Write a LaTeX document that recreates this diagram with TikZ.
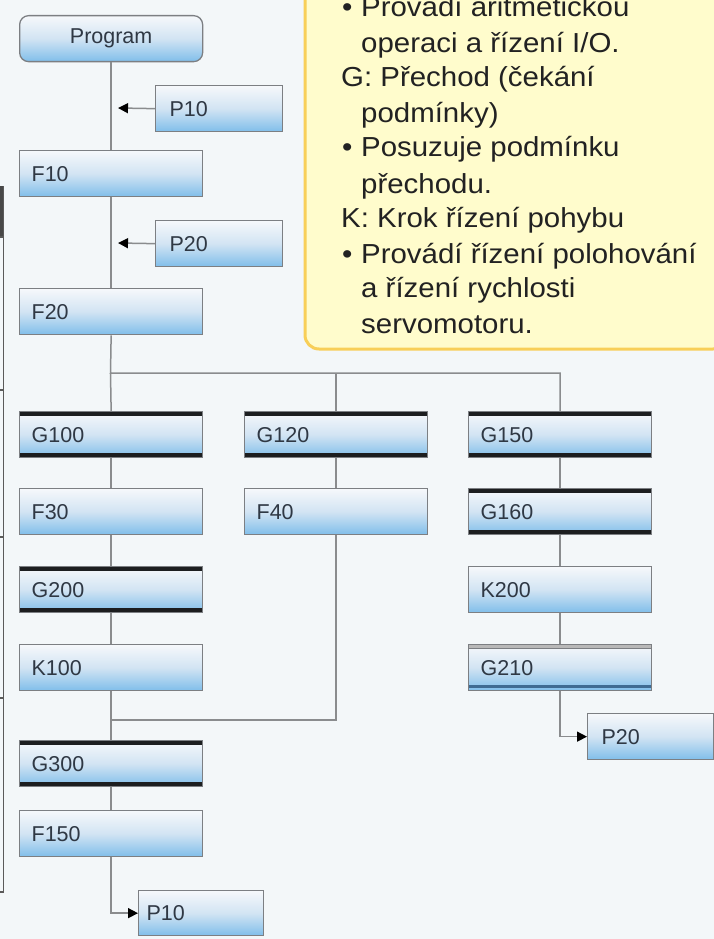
\documentclass[tikz,border=0pt]{standalone}
\usepackage{fontspec}
\setmainfont{Liberation Sans}
\newfontfamily\yfont[FakeStretch=1.07]{Liberation Sans}
\usetikzlibrary{arrows.meta}
\definecolor{bgc}{HTML}{F3F7F9}
\definecolor{boxtop}{HTML}{F6F8FB}
\definecolor{boxmid}{HTML}{D2E4F3}
\definecolor{boxbot}{HTML}{80BEEA}
\definecolor{boxborder}{HTML}{7C7F83}
\definecolor{boxtext}{HTML}{2F3844}
\definecolor{connc}{HTML}{8A8C8E}
\definecolor{gbarc}{HTML}{1C1E20}
\definecolor{yfill}{HTML}{FFFCCC}
\definecolor{yborder}{HTML}{F8CF58}
\definecolor{ytextc}{HTML}{222222}
\definecolor{edgec}{HTML}{5A5A5A}
\definecolor{gblue}{HTML}{3F6B92}
\tikzset{
  box/.style={draw=boxborder, line width=1.3pt, top color=boxtop, bottom color=boxbot, middle color=boxmid,
    minimum height=46pt, inner xsep=12pt, inner ysep=0pt, anchor=north west, align=left,
    text width=159pt, font=\fontsize{21.5}{25}\selectfont, text=boxtext},
  pbox/.style={box, inner xsep=14pt, text width=99pt},
  gbars/.style={path picture={
      \fill[gbarc] (path picture bounding box.north west) rectangle ([yshift=-4.5pt]path picture bounding box.north east);
      \fill[gbarc] (path picture bounding box.south west) rectangle ([yshift=4.5pt]path picture bounding box.south east);}},
  gsoft/.style={path picture={
      \fill[gray!55] (path picture bounding box.north west) rectangle ([yshift=-4pt]path picture bounding box.north east);
      \draw[boxborder, line width=0.8pt] ([yshift=-4pt]path picture bounding box.north west) -- ([yshift=-4pt]path picture bounding box.north east);
      \fill[gblue] ([yshift=3pt]path picture bounding box.south west) rectangle ([yshift=5.5pt]path picture bounding box.south east);}},
  conn/.style={draw=connc, line width=1.5pt},
  arr/.style={conn, -{Triangle[length=10pt,width=10pt,color=black]}},
  ytext/.style={font=\yfont\fontsize{27.5}{33}\selectfont, text=ytextc, inner sep=0pt, anchor=base west},
}
\begin{document}
\begin{tikzpicture}[x=1pt,y=-1pt]
\useasboundingbox (0,0) rectangle (714,939);
\fill[bgc] (0,0) rectangle (714,939);

% left edge (cut-off table)
\fill[edgec!80!black] (0,186) rectangle (3.5,237);
\draw[edgec, line width=1.3pt] (3.5,186) -- (3.5,892) -- (0,892);
\foreach \yy in {237,390,537,698} \draw[edgec, line width=1.3pt] (0,\yy) -- (3.5,\yy);

% yellow note
\draw[yborder, fill=yfill, line width=3pt, rounded corners=14pt] (305,-30) rectangle (727,349);
\node[ytext] (t1) at (342,17) {\makebox[19pt][l]{•}Provádí aritmetickou};
\node[ytext] (t2) at (361,53) {operaci a řízení I/O.};
\node[ytext] (t3) at (341,87) {G: Přechod (čekání};
\node[ytext] (t4) at (361,122) {podmínky)};
\node[ytext] (t5) at (342,157) {\makebox[19pt][l]{•}Posuzuje podmínku};
\node[ytext] (t6) at (361,193) {přechodu.};
\node[ytext] (t7) at (341,227) {K: Krok řízení pohybu};
\node[ytext] (t8) at (342,263) {\makebox[19pt][l]{•}Provádí řízení polohování};
\node[ytext] (t9) at (361,297) {a řízení rychlosti};
\node[ytext] (t10) at (361,333) {servomotoru.};

% boxes
\node[box, rounded corners=9pt, align=center] (prog) at (19,15) {Program};
\node[pbox] (p10a) at (155,85) {P10};
\node[box] (f10) at (19,150) {F10};
\node[pbox] (p20a) at (155,220) {P20};
\node[box] (f20) at (19,288) {F20};
\node[box, gbars] (g100) at (19,411) {G100};
\node[box, gbars] (g120) at (244,411) {G120};
\node[box, gbars] (g150) at (468,411) {G150};
\node[box] (f30) at (19,488) {F30};
\node[box] (f40) at (244,488) {F40};
\node[box, gbars] (g160) at (468,488) {G160};
\node[box, gbars] (g200) at (19,566) {G200};
\node[box] (k200) at (468,566) {K200};
\node[box] (k100) at (19,644) {K100};
\node[box, gsoft] (g210) at (468,644) {G210};
\node[pbox, text width=98pt] (p20b) at (587,713) {P20};
\node[box, gbars] (g300) at (19,740) {G300};
\node[box] (f150) at (19,810) {F150};
\node[pbox, inner xsep=8pt, text width=109pt, minimum height=45pt] (p10b) at (138,890) {P10};

% connectors
\coordinate (a1) at (118,108);
\coordinate (a2) at (118,243);
\coordinate (br) at (110.5,373);
\coordinate (mg) at (110.5,720);
\draw[conn] (prog.south) -- (f10.north);
\draw[conn] (f10.south) -- (f20.north);
\draw[arr] (p10a.west) -- (a1);
\draw[arr] (p20a.west) -- (a2);
\draw[conn] (f20.south) -- (br) -| (g150.north);
\draw[conn] (br) -- (g100.north);
\draw[conn] (g120.north) -- (g120.north |- br);
\draw[conn] (g100.south) -- (f30.north);
\draw[conn] (f30.south) -- (g200.north);
\draw[conn] (g200.south) -- (k100.north);
\draw[conn] (k100.south) -- (g300.north);
\draw[conn] (g120.south) -- (f40.north);
\draw[conn] (f40.south) |- (mg);
\draw[conn] (g150.south) -- (g160.north);
\draw[conn] (g160.south) -- (k200.north);
\draw[conn] (k200.south) -- (g210.north);
\draw[arr] (g210.south) |- (p20b.west);
\draw[conn] (g300.south) -- (f150.north);
\draw[arr] (f150.south) |- (p10b.west);
\end{tikzpicture}
\end{document}
